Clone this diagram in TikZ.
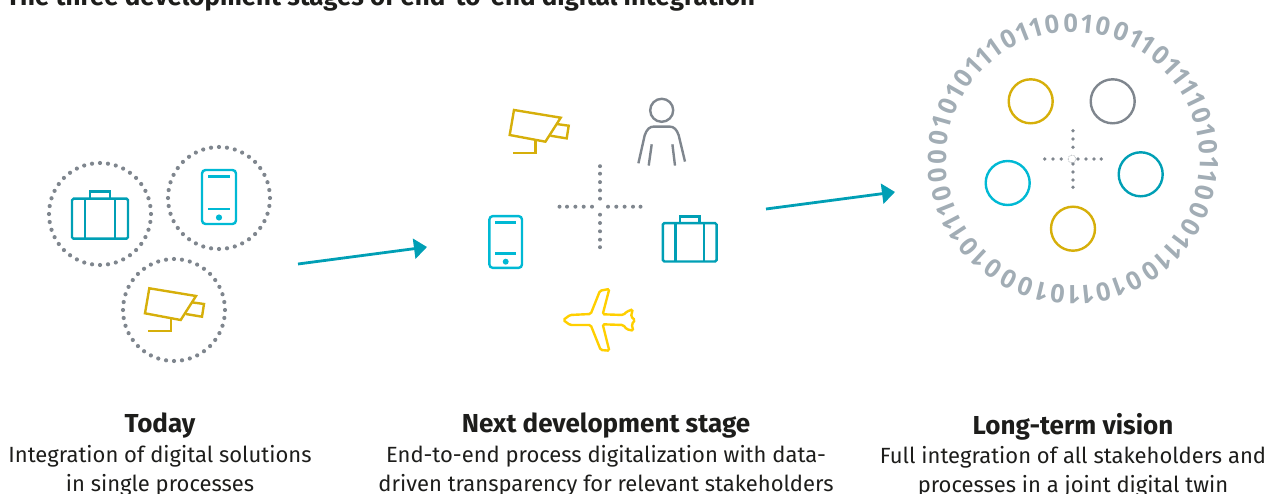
\documentclass[tikz,border=0pt]{standalone}
\usepackage{fontspec}
\setmainfont{Fira Sans}
\newfontfamily\digitfont{Open Sans}
\usetikzlibrary{arrows.meta}
\definecolor{tealline}{HTML}{009FB5}
\definecolor{cyanline}{HTML}{00B9D4}
\definecolor{goldline}{HTML}{D6AF0A}
\definecolor{yellowline}{HTML}{FFCF00}
\definecolor{greyline}{HTML}{7F868E}
\definecolor{digitgrey}{HTML}{A2ADB5}
\definecolor{textblack}{HTML}{1D1D1B}
\newcommand{\headtext}[1]{{\fontsize{26}{29.2}\selectfont\bfseries\vphantom{d}#1}}
\tikzset{
    icon/.style={line width=2.4pt},
    dotring/.style={circle, draw=greyline, minimum size=102pt, inner sep=0pt, line width=4.2pt, line cap=round, dash pattern=on 0pt off 8.01pt},
    bubble/.style={circle, draw, minimum size=44pt, inner sep=0pt, line width=2.4pt},
    digit/.style={font=\digitfont\bfseries\fontsize{25.5}{26}\selectfont, text=digitgrey, inner sep=0pt},
    caption/.style={font=\fontsize{22}{29.2}\selectfont, text=textblack, align=center, anchor=north, inner sep=0pt},
    flow/.style={draw=tealline, line width=2.8pt, -{Triangle[length=13pt,width=20pt]}},
    pics/casepic/.style={code={
        \draw[icon, draw=tealline, rounded corners=1.5pt] (-28,-20) rectangle (28,20);
        \draw[icon, draw=tealline] (-10,-20) -- (-10,-27) -- (10,-27) -- (10,-20);
        \draw[icon, draw=tealline] (-15,-20) -- (-15,20) (15,-20) -- (15,20);
    }},
    pics/phonepic/.style={code={
        \draw[icon, draw=cyanline, rounded corners=3.5pt] (-17,-27) rectangle (17,27);
        \draw[icon, draw=cyanline] (-11,-20.5) -- (11,-20.5) (-11,12) -- (11,12);
        \fill[cyanline] (0,20.5) circle (3.1);
    }},
    pics/camerapic/.style={code={
        \draw[icon, draw=goldline] (-24.7,-21.7) -- (22,-14) -- (6.7,10) -- (-29,3.3) -- cycle;
        \draw[icon, draw=goldline] (17.7,-7.7) -- (30,-6) -- (28,6.7) -- (11.7,4);
        \draw[icon, draw=goldline] (-3.3,8.3) -- (-3.3,21.3) -- (-25.7,21.3);
    }},
    pics/personpic/.style={code={
        \draw[icon, draw=greyline] (0,0) circle (11.5);
        \draw[icon, draw=greyline] (-23.3,53) -- (-17,25) .. controls (-15,19) and (-12,16.3) .. (-8,16.3) -- (8,16.3) .. controls (12,16.3) and (15,19) .. (17,25) -- (23.3,51.3);
        \draw[icon, draw=greyline] (-10,34) -- (-13,55.3) (10.7,34) -- (13.3,55.3);
    }},
    pics/planepic/.style={code={
        \draw[icon, draw=yellowline, rounded corners=1.5pt] (-36.7,0) -- (-30,-5) -- (-9.3,-6) -- (0,-29.3) -- (9.3,-31) -- (2.7,-5.7) -- (23.3,-5) -- (26.7,-8.3) -- (32.7,-10.7) -- (31,-3.3) -- (35,0) -- (31.7,4.3) -- (33.3,10.7) -- (26.7,9.3) -- (23.3,5) -- (2.7,4.3) -- (9.3,30.7) -- (0.7,30) -- (-9.3,5) -- (-30,5) -- cycle;
    }},
}
\begin{document}
\begin{tikzpicture}[x=1pt,y=-1pt]
    \useasboundingbox (0,0) rectangle (1283,494);

    % Title
    \node[anchor=base west, inner sep=0pt, text=textblack, font=\bfseries\fontsize{25.9}{26}\selectfont] (title) at (6,6) {The three development stages of end-to-end digital integration};

    % Today
    \node[dotring] (ringcase) at (100,214) {};
    \node[dotring] (ringphone) at (219,198) {};
    \node[dotring] (ringcamera) at (174,310) {};
    \pic at (100,218.7) {casepic};
    \pic at (219,197) {phonepic};
    \pic at (174,310) {camerapic};

    % Next stage
    \pic at (538.7,131.7) {camerapic};
    \pic at (661.7,110.3) {personpic};
    \pic[scale=.96] at (505.7,242) {phonepic};
    \pic[scale=.96] at (689.7,242.3) {casepic};
    \pic at (600,320) {planepic};
    \foreach \d in {-40.5,-33,-24.6,-16.3,-8,8,16.3,24.6,33,40.5}{
        \fill[greyline] (600+\d,206.7) circle (2);
        \fill[greyline] (600,206.7+\d) circle (2);
    }

    % Long-term vision
    \node[bubble, draw=goldline] (bubblea) at (1030.7,101.3) {};
    \node[bubble, draw=greyline] (bubbleb) at (1112.7,101.3) {};
    \node[bubble, draw=cyanline] (bubblec) at (1007.7,183) {};
    \node[bubble, draw=tealline] (bubbled) at (1140.7,174.3) {};
    \node[bubble, draw=goldline] (bubblee) at (1073,228.7) {};
    \foreach \d in {-28.3,-20,-11.7,5,13,21,28.3}{
        \fill[greyline] (1073+\d,159) circle (1.9);
        \fill[greyline] (1073,159+\d) circle (1.9);
    }
    \draw[greyline, line width=.6pt, densely dotted] (1072,159) circle (4);

    % Binary ring
    \foreach \d [count=\i from 0, remember=\e as \laste (initially 3.0), evaluate=\d as \e using \laste+7.96-2.21*\d] in {1,0,0,1,1,0,1,1,1,1,0,1,0,1,1,0,0,0,1,1,1,0,0,1,0,1,1,0,1,0,0,0,1,0,1,1,1,0,0,0,0,1,0,1,0,1,1,1,0,1,1,0,0}{
        \pgfmathsetmacro{\a}{(\laste+\e)/2}
        \node[digit, rotate=-\a] (digit\i) at ({1073+136*sin(\a)},{159-136*cos(\a)}) {\d};
    }

    % Arrows
    \coordinate (flowastart) at (298,264);
    \coordinate (flowaend) at (427,247);
    \coordinate (flowbstart) at (766,209);
    \coordinate (flowbend) at (895,192);
    \draw[flow] (flowastart) -- (flowaend);
    \draw[flow] (flowbstart) -- (flowbend);

    % Captions
    \node[caption] (today) at (160,413) {\headtext{Today}\\Integration of digital solutions\\in single processes};
    \node[caption] (next) at (606,413) {\headtext{Next development stage}\\End-to-end process digitalization with data-\\driven transparency for relevant stakeholders};
    \node[caption] (vision) at (1073,413) {\headtext{Long-term vision}\\Full integration of all stakeholders and\\processes in a joint digital twin};
\end{tikzpicture}
\end{document}
